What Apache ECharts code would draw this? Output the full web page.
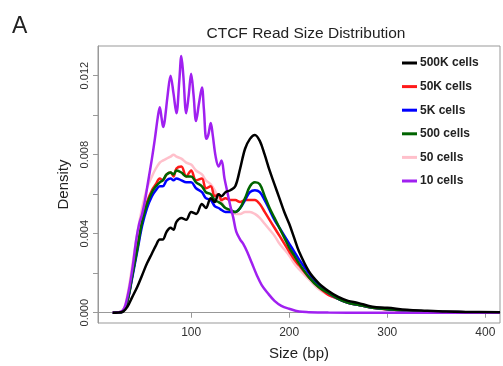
<!DOCTYPE html>
<html><head><meta charset="utf-8">
<script src="https://cdn.jsdelivr.net/npm/echarts@6/dist/echarts.min.js"></script>
<style>html,body{margin:0;padding:0;background:#fff}#c{width:503px;height:366px}</style>
</head><body><div id="c"></div>
<script>
const sizes = [20,30,35,40,45,50,55,60,64,68,71,75,79,82,85,90,95,100,105,111,115,120,124,128,131,135,140,145,150,155,160,165,170,175,180,185,190,195,200,205,210,220,230,240,250,260,270,285,300,320,340,360,380,415];
const cells500K = [0,0.00005,0.0003,0.0008,0.0013,0.0019,0.0025,0.0030,0.0034,0.0037,0.0037,0.0041,0.0043,0.0042,0.0046,0.0048,0.0047,0.0051,0.0050,0.0055,0.0053,0.0058,0.0056,0.0060,0.0059,0.0061,0.0062,0.0064,0.0073,0.0083,0.0088,0.0090,0.0087,0.0080,0.0072,0.0065,0.0058,0.0051,0.0045,0.0038,0.0031,0.0021,0.0015,0.0011,0.0008,0.0006,0.0005,0.0003,0.00025,0.00015,0.0001,0.00006,0.00004,0.00002];
const cells50K = [0,0.00005,0.0006,0.0019,0.0033,0.0046,0.0056,0.0062,0.0065,0.0068,0.0067,0.0070,0.0071,0.0069,0.0073,0.0074,0.0069,0.0072,0.0067,0.0068,0.0063,0.0064,0.0059,0.0060,0.0057,0.0058,0.0057,0.0057,0.0056,0.0057,0.0057,0.0057,0.0055,0.0051,0.0047,0.0043,0.0039,0.0035,0.0031,0.0027,0.0024,0.0018,0.0013,0.0009,0.0007,0.0005,0.0004,0.00025,0.00017,0.0001,0.00006,0.00004,0.00003,0.00001];
const cells5K = [0,0.00005,0.0006,0.0018,0.0031,0.0044,0.0053,0.0059,0.0062,0.0064,0.0064,0.0067,0.0068,0.0067,0.0068,0.0067,0.0066,0.0066,0.0063,0.0061,0.0058,0.0057,0.0054,0.0053,0.0052,0.0051,0.0051,0.0051,0.0053,0.0057,0.0061,0.0062,0.0061,0.0057,0.0052,0.0047,0.0043,0.0039,0.0035,0.0031,0.0027,0.0020,0.0014,0.0010,0.0007,0.0005,0.0004,0.00025,0.00018,0.0001,0.00007,0.00004,0.00003,0.00001];
const cells500 = [0,0.00005,0.0006,0.0019,0.0032,0.0046,0.0055,0.0061,0.0064,0.0066,0.0067,0.0070,0.0071,0.0070,0.0072,0.0071,0.0069,0.0069,0.0066,0.0064,0.0061,0.0060,0.0057,0.0056,0.0055,0.0053,0.0052,0.0051,0.0053,0.0058,0.0064,0.0066,0.0065,0.0059,0.0053,0.0048,0.0043,0.0038,0.0033,0.0029,0.0025,0.0018,0.0013,0.0010,0.0007,0.0005,0.0004,0.00025,0.00018,0.0001,0.00007,0.00004,0.00003,0.00001];
const cells50 = [0,0.0001,0.0009,0.0024,0.0040,0.0053,0.0063,0.0069,0.0073,0.0076,0.0077,0.0078,0.0079,0.0080,0.0079,0.0078,0.0076,0.0075,0.0072,0.0070,0.0067,0.0065,0.0062,0.0058,0.0056,0.0053,0.0051,0.0050,0.0050,0.0051,0.0051,0.0050,0.0048,0.0045,0.0042,0.0039,0.0035,0.0032,0.0029,0.0025,0.0022,0.0017,0.0012,0.0009,0.0007,0.0005,0.0004,0.00025,0.00015,0.0001,0.00006,0.00004,0.00003,0.00001];
const sizes10 = [20,30,35,40,44,47,50,53,56,60,63,66,68,70,71.5,73,76,79,82,85,88,90,92,95,97.5,100,102.5,105,108,111,113,115.5,117.5,120,122,125,128,131,134,137,140,143,146,150,153,157,162,167,172,178,185,192,200,210,220,240,280,415];
const cells10 = [0,0.0001,0.0008,0.0022,0.0037,0.0045,0.0050,0.0057,0.0066,0.0078,0.0088,0.0099,0.0104,0.0098,0.0094,0.0097,0.0110,0.0120,0.0111,0.0101,0.0118,0.0130,0.0120,0.0101,0.0110,0.0121,0.0110,0.0097,0.0106,0.0114,0.0103,0.0088,0.0090,0.0096,0.0090,0.0079,0.0074,0.0077,0.0068,0.0061,0.0054,0.0048,0.0041,0.0037,0.0035,0.0031,0.0025,0.0019,0.0014,0.0010,0.0006,0.00035,0.0002,0.00006,0.00003,0.00001,0,0];
const seriesNames = ['500K cells','50K cells','5K cells','500 cells','50 cells','10 cells'];
const seriesValues = [cells500K, cells50K, cells5K, cells500, cells50, cells10];
const seriesSizes = [sizes, sizes, sizes, sizes, sizes, sizes10];
const seriesColors = ['#000000','#ff1a1a','#0000ff','#006400','#ffc0cb','#a020f0'];
const seriesZ = [8,4,5,6,3,7];
const xTicks = [100,200,300,400];
const yTicks = [0,0.002,0.004,0.006,0.008,0.010,0.012];
const yLabels = [0,0.004,0.008,0.012];

const FONT = 'Liberation Sans, Arial, Helvetica, sans-serif';
const chart = echarts.init(document.getElementById('c'), null, {renderer:'canvas'});
chart.setOption({
  animation:false,
  backgroundColor:'#ffffff',
  title:[
    {text:'CTCF Read Size Distribution', left:301, top:21, textAlign:'center',
     textStyle:{fontFamily:FONT, fontSize:15.5, fontWeight:'normal', color:'#222'}},
    {text:'A', left:7, top:10, textStyle:{fontFamily:FONT, fontSize:23, fontWeight:'normal', color:'#222'}}
  ],
  legend:{
    orient:'vertical', left:397, top:52, itemGap:11.6, itemWidth:15, itemHeight:3, icon:'rect',
    data:seriesNames,
    textStyle:{fontFamily:FONT, fontSize:12, fontWeight:'bold', color:'#222', padding:[0,0,0,-2]}
  },
  grid:{left:98, top:46, right:3, bottom:43, show:true, borderColor:'#999', borderWidth:1},
  xAxis:{
    type:'value', min:5, max:415,
    name:'Size (bp)', nameLocation:'middle', nameGap:23,
    nameTextStyle:{fontFamily:FONT, fontSize:15, color:'#222'},
    axisLine:{show:true, lineStyle:{color:'#999'}},
    axisTick:{show:true, inside:false, length:5, customValues:xTicks, lineStyle:{color:'#999'}},
    axisLabel:{customValues:xTicks, fontFamily:FONT, fontSize:12, color:'#333', margin:4},
    splitLine:{show:false}
  },
  yAxis:{
    type:'value', min:-0.00052, max:0.0135,
    name:'Density', nameLocation:'middle', nameGap:20, nameRotate:90,
    nameTextStyle:{fontFamily:FONT, fontSize:15, color:'#222'},
    axisLine:{show:true, lineStyle:{color:'#999'}},
    axisTick:{show:true, inside:false, length:5, customValues:yTicks, lineStyle:{color:'#999'}},
    axisLabel:{customValues:yLabels, rotate:90, fontFamily:FONT, fontSize:11, color:'#333', margin:8,
      formatter:v=>v.toFixed(3)},
    splitLine:{show:false}
  },
  series: seriesNames.map((n,i)=>({
    name:n, type:'line', showSymbol:false, symbol:'none', smooth:0.35, z:seriesZ[i],
    lineStyle:{color:seriesColors[i], width:2.5}, itemStyle:{color:seriesColors[i]},
    data: seriesSizes[i].map((s,j)=>[s, seriesValues[i][j]])
  }))
});
</script></body></html>
